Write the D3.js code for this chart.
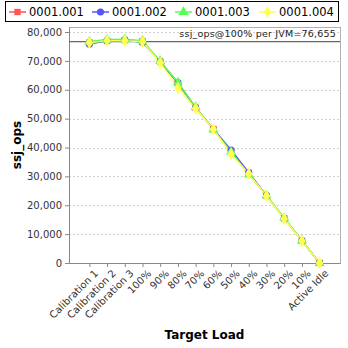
<!DOCTYPE html>
<html><head><meta charset="utf-8">
<script src="https://cdn.jsdelivr.net/npm/d3@7"></script>
<style>body{margin:0;background:#fff}svg{display:block}</style>
</head><body>
<script>
const categories = ["Calibration 1","Calibration 2","Calibration 3","100%","90%","80%","70%","60%","50%","40%","30%","20%","10%","Active Idle"];
const seriesNames = ["0001.001","0001.002","0001.003","0001.004"];
const s1 = [76400,76900,77200,76800,69800,62300,53800,46400,38600,31200,23300,15500,7700,0];
const s2 = [75800,77000,77300,76400,69600,62400,53700,46300,39100,31300,23200,15400,7700,0];
const s3 = [76700,77400,77500,77000,69900,62500,54000,46200,38500,30600,23400,15600,7800,0];
const s4 = [76300,77000,77000,76600,69300,60700,53400,46300,37700,30900,23100,15300,7600,0];
const yTicks = [0,10000,20000,30000,40000,50000,60000,70000,80000];
const refValue = 76655;
const refLabel = "ssj_ops@100% per JVM=76,655";
const colors = ["#FF5555","#5555FF","#55FF55","#FFFF55"];
const shapes = [d3.symbolSquare, d3.symbolCircle, d3.symbolTriangle, d3.symbolDiamond];
const allSeries = [s1,s2,s3,s4];

const W=348,H=348;
const m={l:69,r:340,t:27,b:263};
const svg=d3.select("body").append("svg").attr("width",W).attr("height",H);
const font="DejaVu Sans";

const x=d3.scalePoint().domain(categories).range([m.l,m.r]).padding(1.15);
const y=d3.scaleLinear().domain([0,80000*(263-27)/(263-32)]).range([m.b,m.t]);

svg.append("rect").attr("x",m.l).attr("y",m.t).attr("width",m.r-m.l).attr("height",m.b-m.t).attr("fill","#fff").attr("stroke","#b0b0b0").attr("stroke-width",1).attr("shape-rendering","crispEdges");

svg.append("g").selectAll("line").data(yTicks.filter(d=>d>0)).join("line")
 .attr("x1",m.l).attr("x2",m.r).attr("y1",d=>Math.round(y(d))+0.5).attr("y2",d=>Math.round(y(d))+0.5)
 .attr("stroke","#d0d0d0").attr("stroke-dasharray","2,2").attr("stroke-width",1);

const yAxis=d3.axisLeft(y).tickValues(yTicks).tickFormat(d3.format(",")).tickSizeOuter(0).tickSizeInner(4);
const gy=svg.append("g").attr("transform",`translate(${m.l},0)`).call(yAxis);
gy.selectAll("text").attr("font-family",font).attr("font-size",10).attr("fill","#333");
gy.selectAll("line").attr("stroke","#888");
gy.select(".domain").attr("stroke","#888");

const xAxis=d3.axisBottom(x).tickSizeOuter(0).tickSizeInner(4);
const gx=svg.append("g").attr("transform",`translate(0,${m.b})`).call(xAxis);
gx.select(".domain").attr("stroke","#888");
gx.selectAll("line").attr("stroke","#888");
gx.selectAll(".tick text").attr("font-family",font).attr("font-size",10).attr("fill","#333")
 .attr("text-anchor","end").attr("x",0).attr("y",0).attr("dy","0.7em")
 .attr("transform","translate(4,6) rotate(-45)");

svg.append("line").attr("x1",m.l).attr("x2",m.r).attr("y1",y(refValue)).attr("y2",y(refValue)).attr("stroke","#666").attr("stroke-width",1.2);
svg.append("text").attr("x",m.r-4).attr("y",y(refValue)-5).attr("text-anchor","end")
 .attr("font-family",font).attr("font-size",9.5).attr("fill","#222").attr("letter-spacing","0.2").text(refLabel);

const line=d3.line().x((d,i)=>x(categories[i])).y(d=>y(d));
allSeries.forEach((s,k)=>{
  svg.append("path").datum(s).attr("d",line).attr("fill","none").attr("stroke",colors[k]).attr("stroke-width",1.5);
});
allSeries.forEach((s,k)=>{
  svg.append("g").selectAll("path").data(s).join("path")
   .attr("d",d3.symbol().type(shapes[k]).size(k===2?44:(k===3?46:40)))
   .attr("transform",(d,i)=>`translate(${x(categories[i])},${y(d)})`)
   .attr("fill",colors[k]);
});

svg.append("text").attr("transform",`translate(21,${(m.t+m.b)/2}) rotate(-90)`).attr("text-anchor","middle")
 .attr("font-family",font).attr("font-weight","bold").attr("font-size",12).attr("fill","#000").text("ssj_ops");
svg.append("text").attr("x",(m.l+m.r)/2).attr("y",339).attr("text-anchor","middle")
 .attr("font-family",font).attr("font-weight","bold").attr("font-size",12).attr("fill","#000").text("Target Load");

const lg=svg.append("g");
lg.append("rect").attr("x",5.5).attr("y",1.5).attr("width",333).attr("height",20).attr("fill","#fff").attr("stroke","#000");
const lx=[9,92,175,259];
seriesNames.forEach((n,k)=>{
  const g=lg.append("g").attr("transform",`translate(${lx[k]},12)`);
  g.append("line").attr("x1",0).attr("x2",17).attr("stroke",colors[k]).attr("stroke-width",1.5);
  g.append("path").attr("d",d3.symbol().type(shapes[k]).size(k===2?44:(k===3?46:40))).attr("transform","translate(8.5,0)").attr("fill",colors[k]);
  g.append("text").attr("x",20).attr("y",0).attr("dy","0.36em").attr("font-family",font).attr("font-size",11.5).attr("fill","#000").text(n);
});
</script>
</body></html>
